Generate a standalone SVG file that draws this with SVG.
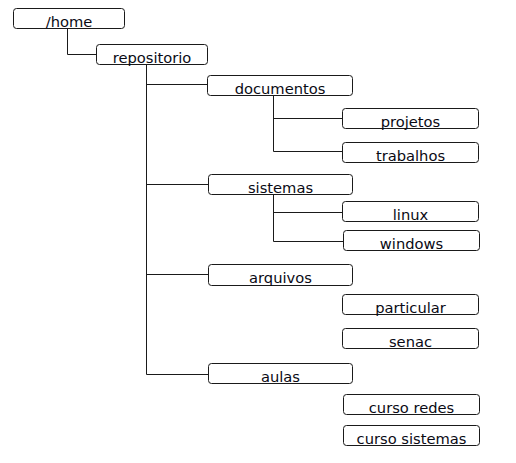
<svg xmlns="http://www.w3.org/2000/svg" width="516" height="463" viewBox="0 0 516 463">
<style>
.n rect{fill:#fff;stroke:#1a1a1a;stroke-width:1}
.n text{font-family:"DejaVu Sans",sans-serif;font-size:14.7px;fill:#0a0a14;text-anchor:middle}
#connectors path{fill:none;stroke:#1a1a1a;stroke-width:1}
</style>
<rect width="516" height="463" fill="#fff"/>
<g id="connectors">
<path d="M67.5 28.5V54.5H96"/>
<path d="M146.5 64.5V374.5H208.5"/>
<path d="M146.5 84.5H207.5"/>
<path d="M146.5 184.5H208.5"/>
<path d="M146.5 274.5H208.5"/>
<path d="M273.5 96V151.5H342.5"/>
<path d="M273.5 118.5H342.5"/>
<path d="M273.5 195V241.5H343.5"/>
<path d="M273.5 212.5H342.5"/>
</g>
<g id="home" class="n"><rect x="13.5" y="8.5" width="111" height="20" rx="3"/><text x="69" y="26.5">/home</text></g>
<g id="repositorio" class="n"><rect x="96.5" y="44.5" width="111" height="20" rx="3"/><text x="152" y="62.5">repositorio</text></g>
<g id="documentos" class="n"><rect x="207.5" y="75.5" width="145" height="20" rx="3"/><text x="280" y="93.8">documentos</text></g>
<g id="projetos" class="n"><rect x="342.5" y="108.5" width="136" height="20" rx="3"/><text x="410.5" y="126.5">projetos</text></g>
<g id="trabalhos" class="n"><rect x="342.5" y="142.5" width="136" height="20" rx="3"/><text x="410.5" y="160.5">trabalhos</text></g>
<g id="sistemas" class="n"><rect x="208.5" y="174.5" width="144" height="20" rx="3"/><text x="280.5" y="192.5">sistemas</text></g>
<g id="linux" class="n"><rect x="342.5" y="201.5" width="136" height="20" rx="3"/><text x="410.5" y="219.5">linux</text></g>
<g id="windows" class="n"><rect x="343.5" y="230.5" width="136" height="20" rx="3"/><text x="411.5" y="248.5">windows</text></g>
<g id="arquivos" class="n"><rect x="208.5" y="264.5" width="144" height="21" rx="3"/><text x="280.5" y="283">arquivos</text></g>
<g id="particular" class="n"><rect x="342.5" y="294.5" width="136" height="20" rx="3"/><text x="410.5" y="312.5">particular</text></g>
<g id="senac" class="n"><rect x="342.5" y="328.5" width="136" height="20" rx="3"/><text x="410.5" y="346.5">senac</text></g>
<g id="aulas" class="n"><rect x="208.5" y="363.5" width="144" height="20" rx="3"/><text x="280.5" y="381.5">aulas</text></g>
<g id="curso-redes" class="n"><rect x="343.5" y="394.5" width="136" height="20" rx="3"/><text x="411.5" y="412.5">curso redes</text></g>
<g id="curso-sistemas" class="n"><rect x="343.5" y="425.5" width="136" height="20" rx="3"/><text x="411.5" y="444">curso sistemas</text></g>
</svg>
